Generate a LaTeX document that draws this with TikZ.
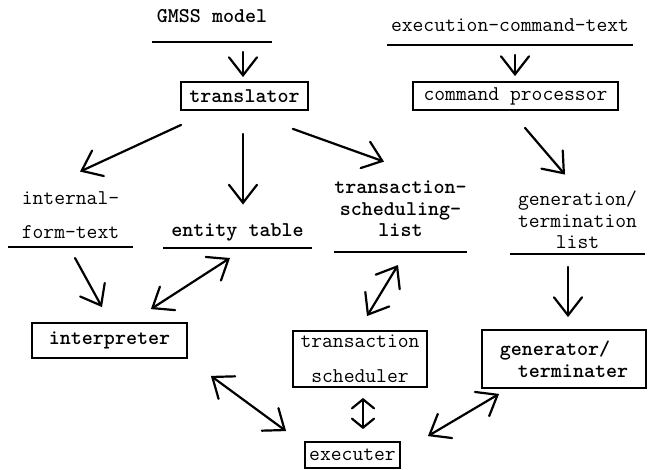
\documentclass[tikz,border=0pt]{standalone}
\usetikzlibrary{arrows.meta,calc}
\tikzset{
  every node/.style={font=\ttfamily\fontsize{21}{21.6}\selectfont, inner sep=0pt},
  box/.style={draw, line width=1.8pt},
  store/.style={anchor=south},
  bf/.style={font=\ttfamily\bfseries\fontsize{21}{21.6}\selectfont},
  uline/.style={line width=2.2pt},
  arr/.style={line width=2.2pt, line cap=round, -{Straight Barb[length=18pt,width=28pt,line cap=round]}},
  darr/.style={line width=2.2pt, line cap=round, {Straight Barb[length=18pt,width=28pt,line cap=round]}-{Straight Barb[length=18pt,width=28pt,line cap=round]}},
  sdarr/.style={line width=2.2pt, line cap=round, {Straight Barb[length=9pt,width=22pt,line cap=round]}-{Straight Barb[length=9pt,width=22pt,line cap=round]}}
}
\begin{document}
\begin{tikzpicture}[x=1pt,y=-1pt]
\useasboundingbox (0,0) rectangle (650,470);
% stores
\node[store,bf,minimum width=120,minimum height=52] (gmss) at (212,42) {GMSS model};
\node[store,minimum width=246,minimum height=40] (exec) at (510,45) {execution-command-text};
\node[store,minimum width=125,minimum height=63,align=left] (ift) at (70.5,247) {internal-\\[13pt]form-text};
\node[store,bf,minimum width=149,minimum height=30] (et) at (237.5,248) {entity table};
\node[store,bf,minimum width=125,minimum height=86,align=center] (tsl) at (400.5,252) {transaction-\\scheduling-\\list};
\node[store,minimum width=135,minimum height=68,align=center] (gl) at (577.5,254) {generation/\\termination\\list};
\foreach \n in {gmss,exec,ift,et,tsl,gl}
  \draw[uline] (\n.south west) -- (\n.south east);
% boxes
\node[box,bf,minimum width=127,minimum height=28] (tr) at (244.5,96) {translator};
\node[box,minimum width=205,minimum height=28] (cp) at (515.5,96) {command processor};
\node[box,bf,minimum width=155,minimum height=35] (interp) at (109.5,340.5) {interpreter};
\node[box,minimum width=134,minimum height=56,align=center] (ts) at (360,359) {transaction\\[13pt]scheduler};
\node[box,bf,minimum width=164,minimum height=58,align=left] (gt) at (564,359) {generator/\\\hspace*{18pt}terminater};
\node[box,minimum width=95,minimum height=26] (exe) at (352.5,455) {executer};
% connectors
\draw[arr] ($(gmss.south)+(31,10)$) -- ($(tr.north)+(-1.5,-4)$);
\draw[arr] ($(exec.south)+(5,10)$) -- ($(cp.north)+(-0.5,-5)$);
\draw[arr] ($(tr.south west)+(1,14)$) -- ($(ift.north)+(9.5,-12)$);
\draw[arr] ($(tr.south)+(-1.5,23)$) -- ($(et.north)+(5.5,-13)$);
\draw[arr] ($(tr.south east)+(-16,18)$) -- ($(tsl.north)+(-16.5,-4)$);
\draw[arr] ($(cp.south)+(9.5,17)$) -- ($(gl.north)+(-12.5,-11)$);
\draw[arr] ($(ift.south)+(4.5,11)$) -- ($(interp.north)+(-7.5,-15)$);
\draw[darr] ($(et.south)+(-7.5,10)$) -- ($(interp.north east)+(-37,-13)$);
\draw[darr] ($(tsl.south)+(-2.5,13)$) -- ($(ts.north)+(7,-14)$);
\draw[arr] ($(gl.south)+(-9.5,13)$) -- ($(gt.north)+(4,-12)$);
\draw[darr] ($(interp.south east)+(23,17)$) -- ($(exe.north west)+(-18,-10)$);
\draw[sdarr] ($(ts.south)+(3,10)$) -- ($(exe.north)+(10.5,-12)$);
\draw[darr] ($(exe.north east)+(27,-5)$) -- ($(gt.south west)+(18,5)$);
\end{tikzpicture}
\end{document}
